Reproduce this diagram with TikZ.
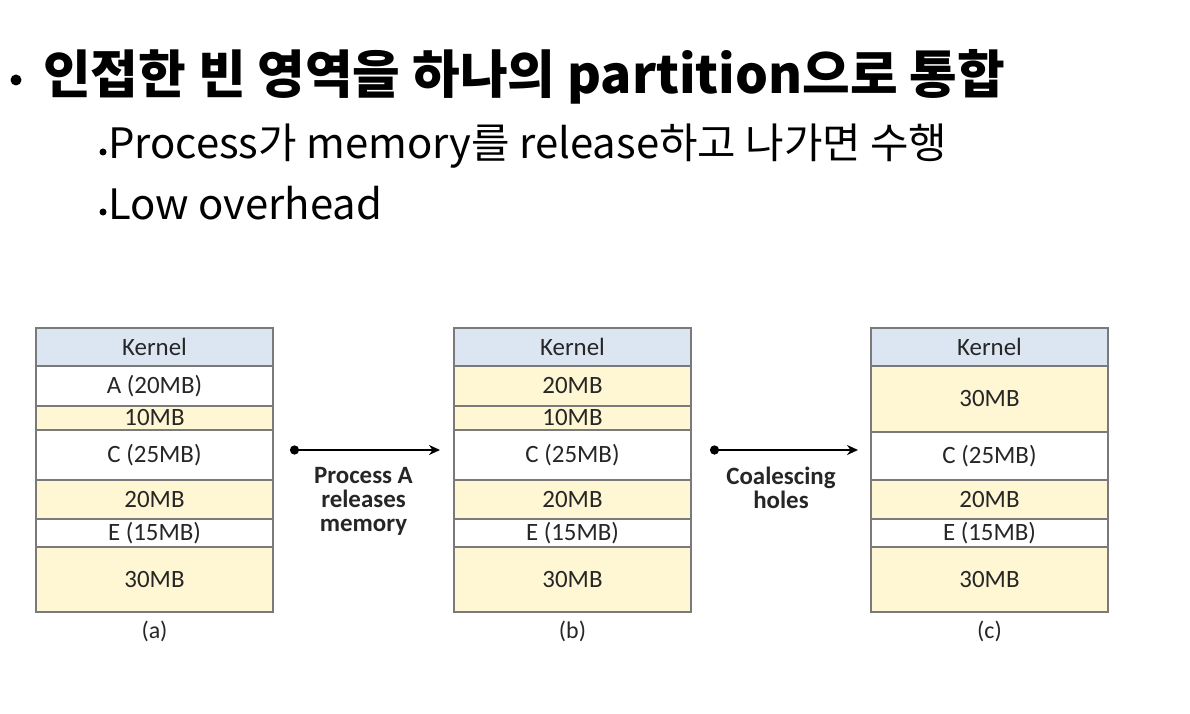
\documentclass[tikz,border=0pt]{standalone}
\usepackage{fontspec}
\setmainfont{Carlito}
\newfontfamily\krfont{Noto Sans CJK KR}
\usetikzlibrary{positioning,arrows.meta}
\definecolor{kernblue}{HTML}{DCE6F2}
\definecolor{holeyel}{HTML}{FFF6D4}
\definecolor{cellgray}{HTML}{7A7A7A}
\definecolor{inkgray}{HTML}{262626}

\begin{document}
\begin{tikzpicture}[
    x=1bp, y=-1bp,
    cell/.style={rectangle, draw=cellgray, line width=1.5bp, fill=white,
                 minimum width=237bp, inner sep=0pt, outer sep=0pt,
                 text=inkgray, font=\fontsize{25}{28}\selectfont},
    kern/.style={cell, fill=kernblue, minimum height=38bp},
    hole/.style={cell, fill=holeyel},
    figcap/.style={inner sep=0pt, text=inkgray, font=\fontsize{24}{26}\selectfont},
    lbl/.style={inner sep=0pt, align=center, text=inkgray,
                font=\bfseries\fontsize{25}{24}\selectfont},
    flow/.style={{Circle[length=9bp]}-{Stealth[length=11bp,width=10bp]},
                 line width=2.6bp, black},
    dotb/.style={circle, fill=black, inner sep=0pt},
    head/.style={anchor=base west, inner sep=0pt, text=black,
                 font=\krfont\bfseries\fontsize{52}{56}\selectfont},
    sub/.style={anchor=base west, inner sep=0pt, text=black,
                font=\krfont\fontsize{42}{46}\selectfont}
]
  \useasboundingbox[fill=white] (0,0) rectangle (1190,714);

  % Heading and bullets
  \node[dotb, minimum size=11bp] (d0) at (16,80) {};
  \node[head] (title) at (43,94) {인접한 빈 영역을 하나의 partition으로 통합};
  \node[dotb, minimum size=7bp] (d1) at (103,152) {};
  \node[sub] (sub1) at (108,159) {Process가 memory를 release하고 나가면 수행};
  \node[dotb, minimum size=7bp] (d2) at (103,212) {};
  \node[sub] (sub2) at (108,220) {Low overhead};

  % (a) memory before release
  \node[kern, anchor=north west] (aK) at (36,328) {Kernel};
  \node[cell, minimum height=40bp, below=0pt of aK] (aA) {A (20MB)};
  \node[hole, minimum height=24bp, below=0pt of aA] (aB) {10MB};
  \node[cell, minimum height=50bp, below=0pt of aB] (aC) {C (25MB)};
  \node[hole, minimum height=39bp, below=0pt of aC] (aD) {20MB};
  \node[cell, minimum height=28bp, below=0pt of aD] (aE) {E (15MB)};
  \node[hole, minimum height=65bp, below=0pt of aE] (aF) {30MB};
  \node[figcap, below=9bp of aF] (acap) {(a)};

  % (b) A released
  \node[kern, anchor=north west] (bK) at (454,328) {Kernel};
  \node[hole, minimum height=40bp, below=0pt of bK] (bA) {20MB};
  \node[hole, minimum height=24bp, below=0pt of bA] (bB) {10MB};
  \node[cell, minimum height=50bp, below=0pt of bB] (bC) {C (25MB)};
  \node[hole, minimum height=39bp, below=0pt of bC] (bD) {20MB};
  \node[cell, minimum height=28bp, below=0pt of bD] (bE) {E (15MB)};
  \node[hole, minimum height=65bp, below=0pt of bE] (bF) {30MB};
  \node[figcap, below=9bp of bF] (bcap) {(b)};

  % (c) holes merged
  \node[kern, anchor=north west] (cK) at (871,328) {Kernel};
  \node[hole, minimum height=66bp, below=0pt of cK] (cA) {30MB};
  \node[cell, minimum height=48bp, below=0pt of cA] (cC) {C (25MB)};
  \node[hole, minimum height=39bp, below=0pt of cC] (cD) {20MB};
  \node[cell, minimum height=28bp, below=0pt of cD] (cE) {E (15MB)};
  \node[hole, minimum height=65bp, below=0pt of cE] (cF) {30MB};
  \node[figcap, below=9bp of cF] (ccap) {(c)};

  % Steps between the maps
  \draw[flow, shorten <=17bp, shorten >=14bp]
    ([yshift=5bp]aC.east) -- node[lbl, below=16bp] (relA)
    {Process A\\releases\\memory} ([yshift=5bp]bC.east -| bC.west);
  \draw[flow, shorten <=19bp, shorten >=13bp]
    ([yshift=5bp]bC.east) -- node[lbl, below=16bp] (merge)
    {Coalescing\\holes} ([yshift=5bp]bC.east -| cC.west);
\end{tikzpicture}
\end{document}
